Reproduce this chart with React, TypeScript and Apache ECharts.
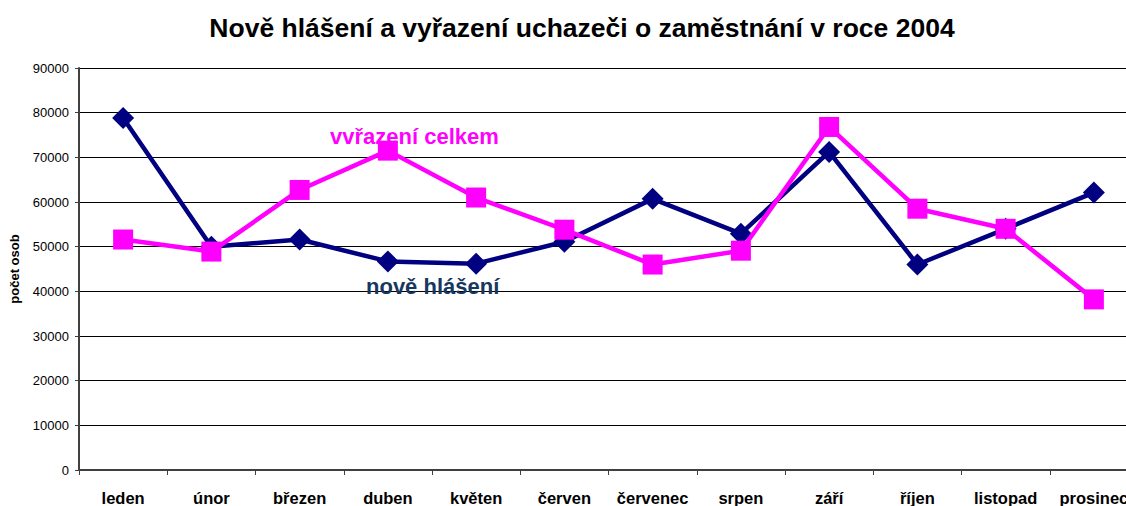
import React, { useEffect, useRef } from "react";
import * as echarts from "echarts";

const months = ["leden", "únor", "březen", "duben", "květen", "červen", "červenec", "srpen", "září", "říjen", "listopad", "prosinec"];
const noveHlaseni = [78800, 50000, 51600, 46700, 46200, 51100, 60700, 52900, 71200, 46000, 54000, 62100];
const vyrazeniCelkem = [51600, 48900, 62700, 71500, 61000, 53800, 46000, 49100, 76800, 58500, 54000, 38200];

const FONT = "'Liberation Sans', Arial, sans-serif";

export default function App() {
  const ref = useRef<HTMLDivElement>(null);
  useEffect(() => {
    const chart = echarts.init(ref.current!, null, { renderer: "svg" });
    chart.setOption({
      animation: false,
      backgroundColor: "#ffffff",
      title: {
        text: "Nově hlášení a vyřazení uchazeči o zaměstnání v roce 2004",
        left: 577,
        top: 9,
        textAlign: "center",
        textStyle: { fontFamily: FONT, fontSize: 26.5, fontWeight: "bold", color: "#000" },
      },
      grid: { left: 78, right: 12, top: 68, bottom: 35, containLabel: false },
      xAxis: {
        type: "category",
        data: months,
        boundaryGap: true,
        axisLine: { lineStyle: { color: "#404040", width: 2 } },
        axisTick: { show: true, length: 5, lineStyle: { color: "#404040" } },
        axisLabel: { fontFamily: FONT, fontSize: 16.5, fontWeight: "bold", color: "#000", margin: 19, interval: 0 },
      },
      yAxis: {
        type: "value",
        min: 0,
        max: 90000,
        interval: 10000,
        name: "počet osob",
        nameLocation: "middle",
        nameGap: 58,
        nameTextStyle: { fontFamily: FONT, fontSize: 13, fontWeight: "bold", color: "#000" },
        axisLine: { show: true, lineStyle: { color: "#404040", width: 2 } },
        axisTick: { show: true, length: 4, lineStyle: { color: "#404040" } },
        axisLabel: { fontFamily: FONT, fontSize: 13, color: "#000", margin: 10, formatter: (v: number) => String(v) },
        splitLine: { lineStyle: { color: "#000", width: 1 } },
      },
      series: [
        {
          name: "nově hlášení",
          type: "line",
          data: noveHlaseni,
          symbol: "diamond",
          symbolSize: [22, 22],
          lineStyle: { color: "#000080", width: 4.5 },
          itemStyle: { color: "#000080" },
          z: 2,
        },
        {
          name: "vyřazení celkem",
          type: "line",
          data: vyrazeniCelkem,
          symbol: "rect",
          symbolSize: [20, 20],
          lineStyle: { color: "#FF00FF", width: 4.5 },
          itemStyle: { color: "#FF00FF" },
          z: 3,
        },
      ],
      graphic: [
        {
          type: "text",
          left: 330,
          top: 125,
          z: 10,
          style: { text: "vvřazení celkem", fill: "#FF00FF", font: "bold 22px 'Liberation Sans', Arial, sans-serif" },
        },
        {
          type: "text",
          left: 366,
          top: 275,
          z: 10,
          style: { text: "nově hlášení", fill: "#17375E", font: "bold 22px 'Liberation Sans', Arial, sans-serif" },
        },
        {
          type: "rect",
          z: 11,
          shape: { x: 360, y: 294, width: 150, height: 8 },
          style: { fill: "#ffffff" },
        },
      ],
    });
    return () => chart.dispose();
  }, []);
  return (
    <div style={{ position: "absolute", left: 0, top: 0, width: 1126, height: 506, overflow: "hidden" }}>
      <div ref={ref} style={{ width: 1150, height: 506 }} />
    </div>
  );
}
